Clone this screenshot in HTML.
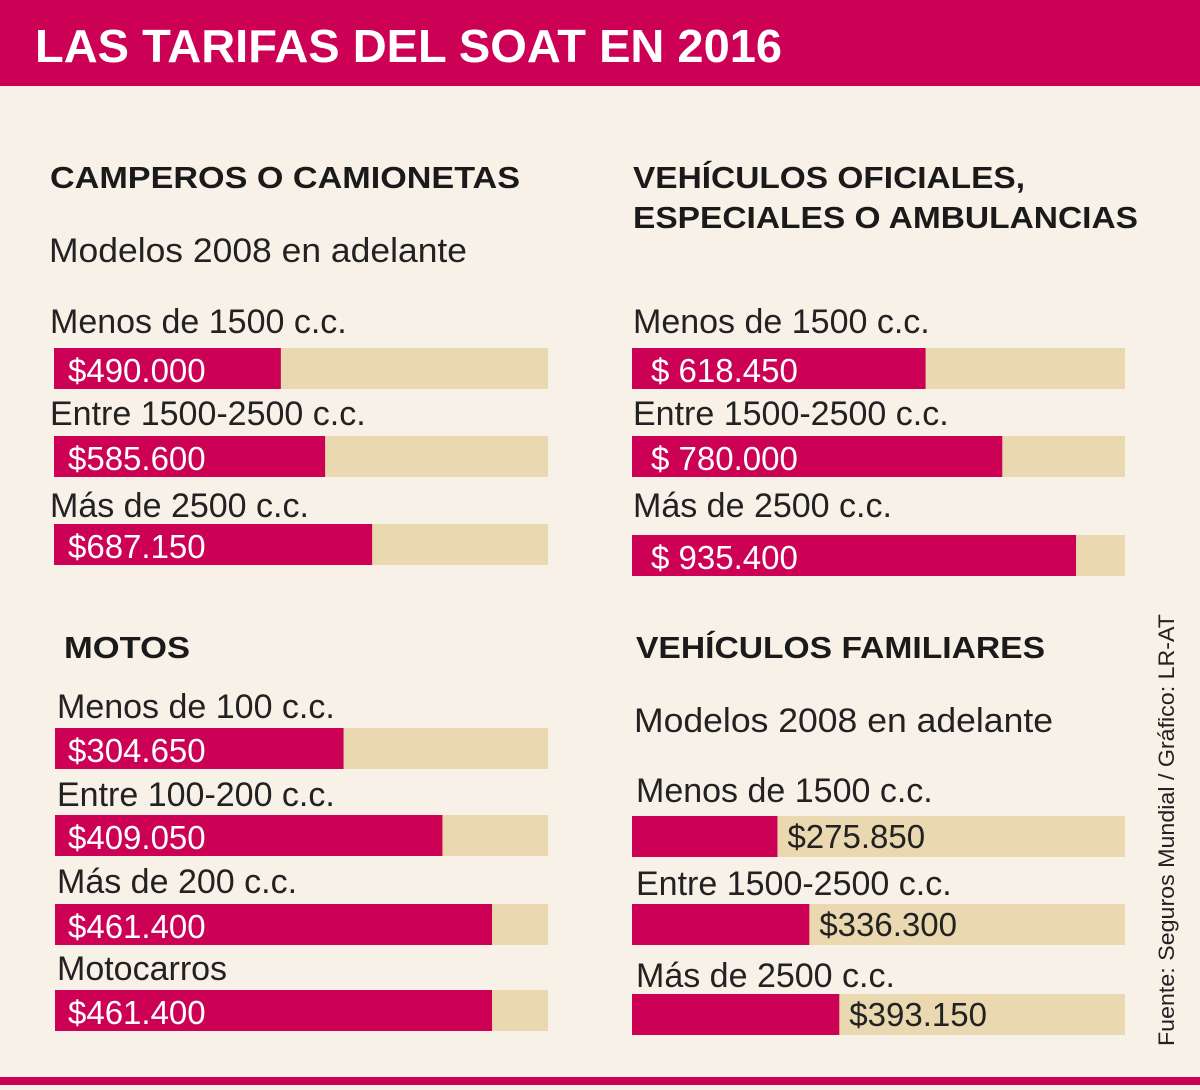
<!DOCTYPE html>
<html><head><meta charset="utf-8">
<style>
html,body{margin:0;padding:0;background:#f8f1e7;}
svg{display:block;}
text{font-family:"Liberation Sans",sans-serif;}
.h{font-weight:bold;font-size:31px;fill:#1a1a1a;}
.l{font-size:34px;fill:#222;}
.v{font-size:33px;fill:#fff;}
.vd{font-size:33px;fill:#222;}
</style></head>
<body>
<svg id="chart" width="1200" height="1090" viewBox="0 0 1200 1090" xmlns="http://www.w3.org/2000/svg">
<rect x="0" y="0" width="1200" height="1090" fill="#f8f1e7"/>
<rect x="0" y="0" width="1200" height="86" fill="#cc0055"/>
<text x="35" y="62" fill="#fff" font-weight="bold" font-size="46" textLength="747" lengthAdjust="spacingAndGlyphs">LAS TARIFAS DEL SOAT EN 2016</text>
<rect x="0" y="1077" width="1200" height="8" fill="#cc0055"/>

<text class="h" x="50" y="188" textLength="470" lengthAdjust="spacingAndGlyphs">CAMPEROS O CAMIONETAS</text>
<text class="l" x="49" y="262" textLength="418" lengthAdjust="spacingAndGlyphs">Modelos 2008 en adelante</text>
<text class="h" x="633" y="188" textLength="392" lengthAdjust="spacingAndGlyphs">VEHÍCULOS OFICIALES,</text>
<text class="h" x="633" y="228" textLength="505" lengthAdjust="spacingAndGlyphs">ESPECIALES O AMBULANCIAS</text>
<text class="h" x="64" y="658" textLength="126" lengthAdjust="spacingAndGlyphs">MOTOS</text>
<text class="h" x="636" y="658" textLength="409" lengthAdjust="spacingAndGlyphs">VEHÍCULOS FAMILIARES</text>
<text class="l" x="634" y="732" textLength="419" lengthAdjust="spacingAndGlyphs">Modelos 2008 en adelante</text>
<text transform="translate(1174,1046) rotate(-90)" font-size="22" fill="#222" textLength="432" lengthAdjust="spacingAndGlyphs">Fuente: Seguros Mundial  / Gráfico: LR-AT</text>
<g id="bars"></g>
</svg>
<script>
// Camperos o camionetas
const camperosCats = ["Menos de 1500 c.c.", "Entre 1500-2500 c.c.", "Más de 2500 c.c."];
const camperosValues = [490000, 585600, 687150];
const camperosLabels = ["$490.000", "$585.600", "$687.150"];
// Vehículos oficiales
const oficialesCats = ["Menos de 1500 c.c.", "Entre 1500-2500 c.c.", "Más de 2500 c.c."];
const oficialesValues = [618450, 780000, 935400];
const oficialesLabels = ["$ 618.450", "$ 780.000", "$ 935.400"];
// Motos
const motosCats = ["Menos de 100 c.c.", "Entre 100-200 c.c.", "Más de 200 c.c.", "Motocarros"];
const motosValues = [304650, 409050, 461400, 461400];
const motosLabels = ["$304.650", "$409.050", "$461.400", "$461.400"];
// Vehículos familiares
const familiaresCats = ["Menos de 1500 c.c.", "Entre 1500-2500 c.c.", "Más de 2500 c.c."];
const familiaresValues = [275850, 336300, 393150];
const familiaresLabels = ["$275.850", "$336.300", "$393.150"];

const NS = "http://www.w3.org/2000/svg";
const g = document.getElementById("bars");
function mk(tag, attrs) {
  const e = document.createElementNS(NS, tag);
  for (const k in attrs) e.setAttribute(k, attrs[k]);
  g.appendChild(e);
  return e;
}
function panel(key, cats, vals, labels, cfg) {
  const scale = v => v / cfg.max * cfg.w;
  cats.forEach((c, i) => {
    const y = cfg.barY[i];
    const t = mk("text", {x: cfg.x - 4 + cfg.lx, y: cfg.labY[i], class: "l"});
    
    
    t.textContent = c;
    const bg = mk("rect", {x: cfg.x, y: y, width: cfg.w, height: 41, fill: "#e9d8b0"});
    
    
    const bw = scale(vals[i]);
    const b = mk("rect", {x: cfg.x, y: y, width: bw, height: 41, fill: "#cc0055"});
    
    
    const vt = mk("text", cfg.outside ? {x: cfg.x + bw + 10, y: y + 32, class: "vd"} : {x: cfg.x + cfg.vx, y: y + 34, class: "v"});
    
    
    vt.textContent = labels[i];
  });
}
panel("camperos", camperosCats, camperosValues, camperosLabels,
  {x: 54, w: 494, max: 1067000, lx: 0, vx: 14, barY: [348, 436, 524], labY: [333, 425, 517]});
panel("oficiales", oficialesCats, oficialesValues, oficialesLabels,
  {x: 632, w: 493, max: 1038500, lx: 5, vx: 19, barY: [348, 436, 535], labY: [333, 425, 517]});
panel("motos", motosCats, motosValues, motosLabels,
  {x: 55, w: 493, max: 520500, lx: 6, vx: 13, barY: [728, 815, 904, 990], labY: [718, 806, 893, 980]});
panel("familiares", familiaresCats, familiaresValues, familiaresLabels,
  {x: 632, w: 493, max: 935000, lx: 8, vx: 0, outside: true, barY: [816, 904, 994], labY: [802, 895, 987]});
</script>
</body></html>
